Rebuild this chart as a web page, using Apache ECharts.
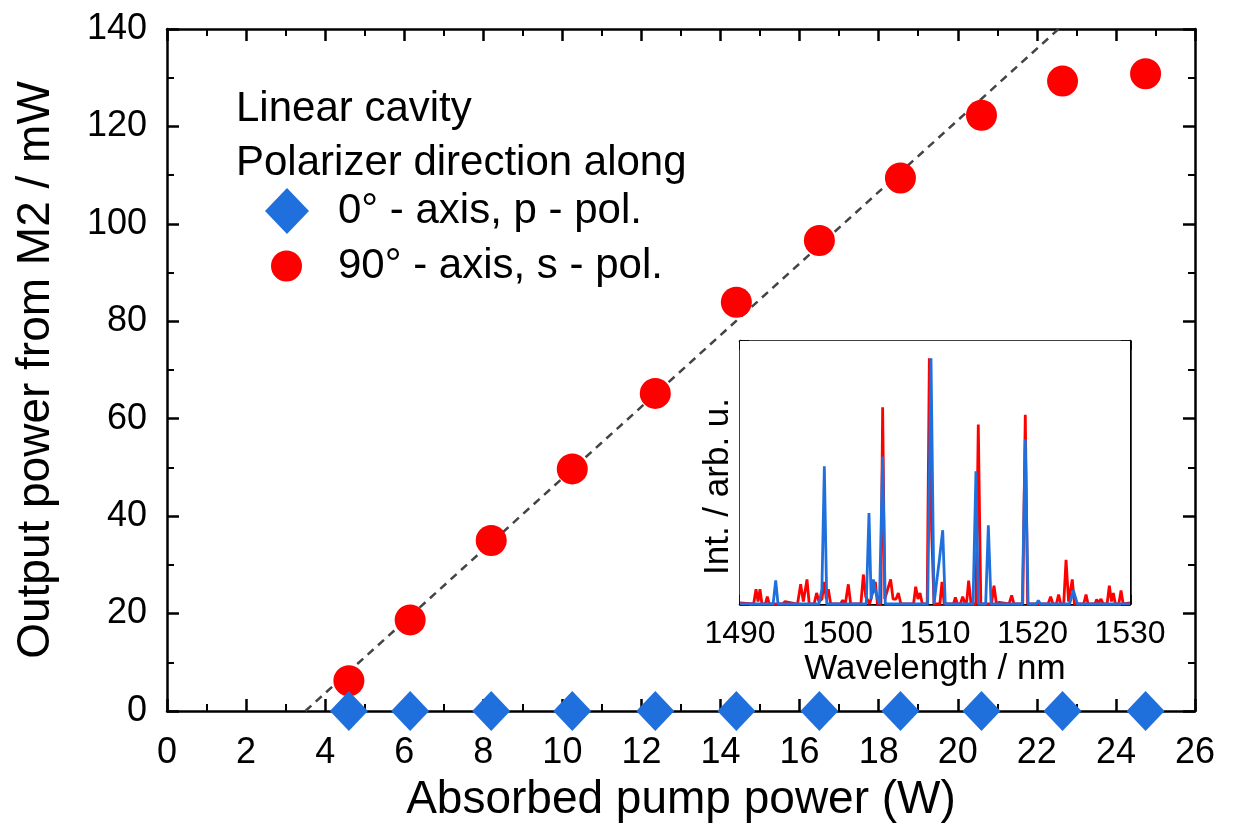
<!DOCTYPE html>
<html>
<head>
<meta charset="utf-8">
<script src="https://cdn.jsdelivr.net/npm/echarts@6/dist/echarts.min.js"></script>
<style>
  html, body { margin: 0; padding: 0; background: #fff; }
  #chart { width: 1239px; height: 835px; }
</style>
</head>
<body>
<div id="chart"></div>
<script>
(function() {
	// main plot: absorbed pump power (W) vs output power (mW)
	var pumpP = [4.6, 6.15, 8.2, 10.25, 12.35, 14.4, 16.5, 18.55, 20.6, 22.65, 24.75];
	var outS = [6.2, 18.7, 35, 49.7, 65.2, 83.9, 96.6, 109.4, 122.3, 129.3, 130.8];
	var outP = [0, 0, 0, 0, 0, 0, 0, 0, 0, 0, 0];
	var fitX = [3.5, 22.55];
	var fitY = [0, 140];

	// inset spectra [wavelength nm, intensity arb. u.]
	var specS = [[1490,0.005],[1491.4,0],[1491.64,0.06],[1491.85,0.01],[1492.05,0.06],[1492.25,0],[1492.6,0],[1492.8,0.03],[1493.0,0],
		[1494.4,0],[1494.62,0.01],[1495.9,0],[1496.22,0.08],[1496.5,0.01],[1496.87,0.10],[1497.1,0],[1497.6,0],[1497.86,0.045],
		[1498.1,0.01],[1498.4,0.02],[1498.65,0.09],[1498.85,0.02],[1499.06,0.06],[1499.3,0],[1500.3,0],[1500.53,0.015],[1500.8,0],
		[1501.11,0.08],[1501.35,0],[1502.4,0],[1502.65,0.12],[1502.9,0.03],[1503.3,0],[1503.88,0.09],[1504.1,0],[1504.45,0],
		[1504.63,0.80],[1504.85,0.02],[1505.45,0.10],[1505.7,0.02],[1506.0,0.02],[1506.24,0.045],[1506.5,0],[1507.8,0],[1508.02,0.07],
		[1508.25,0.02],[1508.46,0.045],[1508.7,0],[1509.2,0],[1509.42,1.0],[1509.65,0.3],[1509.9,0],[1510.5,0],[1510.72,0.09],
		[1510.95,0],[1511.9,0],[1512.09,0.027],[1512.3,0],[1512.6,0],[1512.84,0.03],[1513.1,0],[1513.25,0.01],[1513.45,0.095],
		[1513.7,0],[1514.2,0],[1514.44,0.73],[1514.7,0],[1515.8,0],[1516.05,0.075],[1516.3,0],[1516.6,0.007],[1517.6,0],
		[1517.86,0.035],[1518.1,0],[1519.0,0],[1519.26,0.77],[1519.5,0],[1521.6,0],[1521.86,0.03],[1522.1,0],[1522.45,0],
		[1522.68,0.038],[1522.9,0],[1523.2,0],[1523.44,0.18],[1523.7,0.01],[1524.08,0.10],[1524.3,0],[1525.25,0],[1525.49,0.038],
		[1525.7,0],[1526.4,0],[1526.58,0.018],[1526.8,0.005],[1527.03,0.02],[1527.25,0],[1527.65,0],[1527.88,0.075],[1528.1,0.01],
		[1528.29,0.045],[1528.5,0],[1528.85,0],[1529.08,0.055],[1529.3,0],[1530,0.005]];
	var specP = [[1490,0],[1493.4,0],[1493.66,0.096],[1493.9,0],[1498.1,0],[1498.4,0.06],[1498.65,0.56],[1498.9,0],
		[1502.95,0],[1503.23,0.37],[1503.45,0.02],[1503.68,0.10],[1503.9,0.05],[1504.3,0],[1504.63,0.60],[1504.9,0],
		[1509.25,0],[1509.59,1.0],[1509.9,0],[1510.2,0.1],[1510.45,0.18],[1510.79,0.30],[1511.05,0],[1513.9,0],
		[1514.2,0.54],[1514.45,0],[1515.2,0],[1515.47,0.32],[1515.75,0],[1518.95,0],[1519.26,0.67],[1519.55,0],
		[1520.4,0],[1520.6,0.015],[1520.8,0],[1523.8,0],[1524.19,0.055],[1524.6,0],[1530,0]];

	var red = '#ff0000';
	var blue = '#1f70dd';
	var font = 'Liberation Sans, Arial, Helvetica, sans-serif';

	function zip(a, b) {
		return a.map(function(v, i) { return [v, b[i]]; });
	}

	function frameAxis(opts) {
		var ax = {
			type: 'value',
			gridIndex: opts.grid,
			position: opts.pos,
			min: opts.min,
			max: opts.max,
			interval: opts.interval,
			axisLine: { show: true, onZero: false, lineStyle: { color: '#000', width: 2.5 } },
			axisTick: { show: true, inside: true, length: opts.tick || 12, lineStyle: { color: '#000', width: 2.5 } },
			minorTick: { show: true, splitNumber: 2, length: opts.minor || 7, lineStyle: { color: '#000', width: 2 } },
			splitLine: { show: false },
			axisLabel: {
				show: !!opts.label, color: '#000', fontFamily: font,
				fontSize: opts.fontSize || 36, margin: opts.margin || 20,
				formatter: function(v) { return String(v); }
			}
		};
		if (opts.name) {
			ax.name = opts.name;
			ax.nameLocation = 'middle';
			ax.nameGap = opts.nameGap;
			ax.nameTextStyle = { color: '#000', fontFamily: font, fontSize: opts.nameSize, padding: opts.namePad || 0 };
		}
		return ax;
	}

	var myChart = echarts.init(document.getElementById('chart'), null, { renderer: 'canvas' });

	var legendText = { color: '#000', fontFamily: font, fontSize: 42 };

	var option = {
		backgroundColor: '#fff',
		animation: false,
		grid: [{
			left: 167, right: 44, top: 29, bottom: 124
		}, {
			left: 740, top: 341, width: 390, height: 263,
			show: true, backgroundColor: '#fff', borderWidth: 0, z: 5
		}],
		xAxis: [
			frameAxis({ grid: 0, pos: 'bottom', min: 0, max: 26, interval: 2, label: true, margin: 24,
				name: 'Absorbed pump power (W)', nameGap: 66, nameSize: 46 }),
			frameAxis({ grid: 0, pos: 'top', min: 0, max: 26, interval: 2 }),
			frameAxis({ grid: 1, pos: 'bottom', min: 1490, max: 1530, interval: 10, label: true, fontSize: 32,
				margin: 14, tick: 9, minor: 5, name: 'Wavelength / nm', nameGap: 48, nameSize: 35 }),
			frameAxis({ grid: 1, pos: 'top', min: 1490, max: 1530, interval: 10, tick: 9, minor: 5 })
		],
		yAxis: [
			frameAxis({ grid: 0, pos: 'left', min: 0, max: 140, interval: 20, label: true, margin: 20,
				name: 'Output power from M2 / mW', nameGap: 108, nameSize: 46 }),
			frameAxis({ grid: 0, pos: 'right', min: 0, max: 140, interval: 20 }),
			frameAxis({ grid: 1, pos: 'left', min: 0, max: 1.07, interval: 0.2, tick: 9, minor: 5,
				name: 'Int. / arb. u.', nameGap: 4, nameSize: 35, namePad: [0, 28, 0, 0] }),
			frameAxis({ grid: 1, pos: 'right', min: 0, max: 1.07, interval: 0.2, tick: 9, minor: 5 })
		],
		legend: [{
			left: 260, top: 183,
			itemWidth: 44, itemHeight: 46,
			textStyle: Object.assign({ padding: [0, 0, 0, 24] }, legendText),
			data: [{ name: '0° - axis, p - pol.', icon: 'diamond' }]
		}, {
			left: 266, top: 240,
			itemWidth: 31, itemHeight: 31,
			textStyle: Object.assign({ padding: [0, 0, 0, 31] }, legendText),
			data: [{ name: '90° - axis, s - pol.', icon: 'circle' }]
		}],
		graphic: [{
			type: 'text', left: 236, top: 88,
			style: { text: 'Linear cavity', fill: '#000', font: '42px ' + font }
		}, {
			type: 'text', left: 236, top: 142,
			style: { text: 'Polarizer direction along', fill: '#000', font: '42px ' + font }
		}],
		series: [{
			name: 'fit',
			type: 'line',
			xAxisIndex: 0, yAxisIndex: 0,
			data: zip(fitX, fitY),
			symbol: 'none',
			lineStyle: { color: '#444', width: 2.5, type: [8, 6] },
			z: 2
		}, {
			name: '90° - axis, s - pol.',
			type: 'scatter',
			xAxisIndex: 0, yAxisIndex: 0,
			data: zip(pumpP, outS),
			symbol: 'circle',
			symbolSize: 31,
			itemStyle: { color: red, opacity: 1 },
			z: 3
		}, {
			name: '0° - axis, p - pol.',
			type: 'scatter',
			xAxisIndex: 0, yAxisIndex: 0,
			data: zip(pumpP, outP),
			symbol: 'diamond',
			symbolSize: [38, 40],
			itemStyle: { color: blue, opacity: 1 },
			clip: false,
			z: 4
		}, {
			name: 'spec s',
			type: 'line',
			xAxisIndex: 2, yAxisIndex: 2,
			data: specS,
			symbol: 'none',
			lineStyle: { color: red, width: 2.8 },
			z: 6
		}, {
			name: 'spec p',
			type: 'line',
			xAxisIndex: 2, yAxisIndex: 2,
			data: specP,
			symbol: 'none',
			lineStyle: { color: blue, width: 2.8 },
			z: 7
		}]
	};

	myChart.setOption(option);
})();
</script>
</body>
</html>
